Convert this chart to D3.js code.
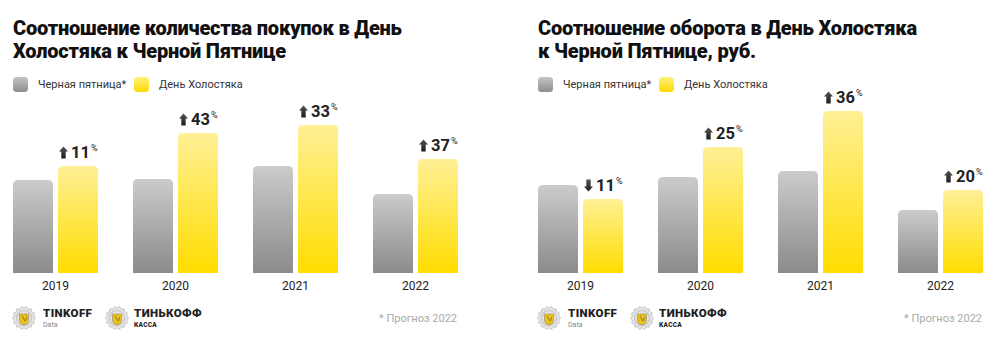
<!DOCTYPE html>
<html><head><meta charset="utf-8">
<script src="https://cdn.jsdelivr.net/npm/d3@7"></script>
<style>
html,body{margin:0;padding:0;background:#fff;}
svg{display:block;}
text{font-family:Roboto,"Noto Sans",sans-serif;}
</style></head>
<body>
<svg id="chart" width="1000" height="337"></svg>
<script>
// ---- data ----
const years = ["2019", "2020", "2021", "2022"];
const seriesNames = ["Черная пятница*", "День Холостяка"];
const countBlackFriday = [93, 94, 107, 79];
const countBachelorDay = [107, 140, 148, 114];
const countChange = [11, 43, 33, 37];
const turnoverBlackFriday = [88, 96, 102, 63];
const turnoverBachelorDay = [74, 126, 162, 83];
const turnoverChange = [-11, 25, 36, 20];
const titleCount = ["Соотношение количества покупок в День", "Холостяка к Черной Пятнице"];
const titleTurnover = ["Соотношение оборота в День Холостяка", "к Черной Пятнице, руб."];
const footnote = "* Прогноз 2022";

const svg = d3.select("#chart");
const defs = svg.append("defs");
function grad(id, c1, c2) {
  const g = defs.append("linearGradient").attr("id", id).attr("x1", 0).attr("y1", 0).attr("x2", 0).attr("y2", 1);
  g.append("stop").attr("offset", "0%").attr("stop-color", c1);
  g.append("stop").attr("offset", "100%").attr("stop-color", c2);
}
grad("gGray", "#cbcbcb", "#8b8b8b");
grad("gYellow", "#fff096", "#ffdd00");
grad("gGrayL", "#c4c4c4", "#8e8e8e");
grad("gYellowL", "#fff27e", "#ffd800");
grad("gArrow", "#555", "#1c1c1c");

function topRounded(x, y, w, h, r) {
  r = Math.min(r, h, w / 2);
  return `M${x},${y + h}V${y + r}Q${x},${y} ${x + r},${y}H${x + w - r}Q${x + w},${y} ${x + w},${y + r}V${y + h}Z`;
}

function drawLogo(g, cx, cy) {
  const n = 28;
  const pts = d3.range(n).map(i => {
    const a = i / n * Math.PI * 2;
    const r = i % 2 ? 10 : 11.5;
    return [cx + r * Math.cos(a), cy + r * Math.sin(a)];
  });
  g.append("path").attr("d", d3.line().curve(d3.curveCardinalClosed)(pts))
    .attr("fill", "#e4e4e4").attr("stroke", "#b9b9b9").attr("stroke-width", 0.8);
  g.append("circle").attr("cx", cx).attr("cy", cy).attr("r", 7.5).attr("fill", "none").attr("stroke", "#c6c6c6").attr("stroke-width", 1.2);
  g.append("path")
    .attr("d", `M${cx - 4.5},${cy - 4}H${cx + 4.5}V${cy + 2}Q${cx + 4.5},${cy + 6} ${cx},${cy + 7}Q${cx - 4.5},${cy + 6} ${cx - 4.5},${cy + 2}Z`)
    .attr("fill", "#e8c21a").attr("stroke", "#9a8a50").attr("stroke-width", 0.6);
  g.append("path").attr("d", `M${cx - 2},${cy - 2}L${cx + 1},${cy + 3}L${cx + 3},${cy - 1}`).attr("fill", "none").attr("stroke", "#7a6a30").attr("stroke-width", 0.8);
}

function drawChart(ox, title, bf, bd, change) {
  const g = svg.append("g").attr("transform", `translate(${ox},0)`);
  // title
  title.forEach((line, i) => {
    g.append("text").attr("x", 13).attr("y", 35 + i * 23)
      .attr("font-size", 20).attr("font-weight", 900).attr("fill", "#111")
      .attr("letter-spacing", -0.2).text(line);
  });
  // legend
  const leg = [{n: seriesNames[0], f: "url(#gGrayL)", x: 13}, {n: seriesNames[1], f: "url(#gYellowL)", x: 134}];
  leg.forEach(d => {
    g.append("rect").attr("x", d.x).attr("y", 77).attr("width", 15).attr("height", 15).attr("rx", 3.5).attr("fill", d.f);
    g.append("text").attr("x", d.x + 25).attr("y", 88).attr("font-size", 11).attr("fill", "#333").text(d.n);
  });

  const x0 = d3.scaleBand().domain(years).range([13, 458]).paddingInner(35 / 120).paddingOuter(0);
  const x1 = d3.scaleBand().domain(["bf", "bd"]).range([0, x0.bandwidth()]).paddingInner(5 / 45);
  const y = d3.scaleLinear().domain([0, 160]).range([273, 113]);

  const groups = g.selectAll("g.yr").data(years.map((yr, i) => ({yr, bf: bf[i], bd: bd[i], ch: change[i]})))
    .join("g").attr("class", "yr").attr("transform", d => `translate(${x0(d.yr)},0)`);

  groups.append("path").attr("d", d => topRounded(x1("bf"), y(d.bf), x1.bandwidth(), y(0) - y(d.bf), 5)).attr("fill", "url(#gGray)");
  groups.append("path").attr("d", d => topRounded(x1("bd"), y(d.bd), x1.bandwidth(), y(0) - y(d.bd), 5)).attr("fill", "url(#gYellow)");

  // x axis labels
  const xAxis = d3.axisBottom(x0).tickSize(0).tickPadding(0);
  const ax = g.append("g").attr("transform", `translate(0,${y(0) + 8})`).call(xAxis);
  ax.select(".domain").remove();
  ax.selectAll("text").attr("font-size", 12).attr("fill", "#222").attr("font-family", "Roboto").attr("dy", "0.71em").attr("y", 0);

  // change labels
  groups.each(function (d) {
    const gg = d3.select(this);
    const bx = x1("bd") + 1;
    const base = y(d.bd) - 8;
    const up = d.ch >= 0;
    const aw = 9, ah = 12, top = base - 11.5;
    const cx = bx + aw / 2;
    const path = up
      ? `M${cx},${top}L${bx + aw},${top + 5}H${cx + 2.2}V${top + ah}H${cx - 2.2}V${top + 5}H${bx}Z`
      : `M${cx},${top + ah}L${bx + aw},${top + ah - 5}H${cx + 2.2}V${top}H${cx - 2.2}V${top + ah - 5}H${bx}Z`;
    gg.append("path").attr("d", path).attr("fill", "url(#gArrow)");
    const t = gg.append("text").attr("x", bx + 12).attr("y", base).attr("font-size", 16.5).attr("font-weight", 700).attr("fill", "#222");
    t.append("tspan").text(Math.abs(d.ch));
    t.append("tspan").attr("font-size", 9).attr("font-weight", 400).attr("dy", -7).attr("dx", 1).text("%");
  });

  // footer
  drawLogo(g, 24, 318);
  g.append("text").attr("x", 43).attr("y", 317).attr("font-size", 11.5).attr("font-weight", 900).attr("fill", "#222").attr("letter-spacing", 0.4).text("TINKOFF");
  g.append("text").attr("x", 43).attr("y", 326.5).attr("font-size", 7).attr("fill", "#888").text("Data");
  drawLogo(g, 117, 318);
  g.append("text").attr("x", 134).attr("y", 317).attr("font-size", 11.5).attr("font-weight", 900).attr("fill", "#222").attr("letter-spacing", 0.4).text("ТИНЬКОФФ");
  g.append("text").attr("x", 134).attr("y", 327).attr("font-size", 6.5).attr("font-weight", 900).attr("fill", "#222").attr("letter-spacing", 0.3).text("КАССА");
  g.append("text").attr("x", 457).attr("y", 322).attr("text-anchor", "end").attr("font-size", 11).attr("fill", "#aaa").text(footnote);
}

drawChart(0, titleCount, countBlackFriday, countBachelorDay, countChange);
drawChart(525, titleTurnover, turnoverBlackFriday, turnoverBachelorDay, turnoverChange);
</script>
</body></html>
